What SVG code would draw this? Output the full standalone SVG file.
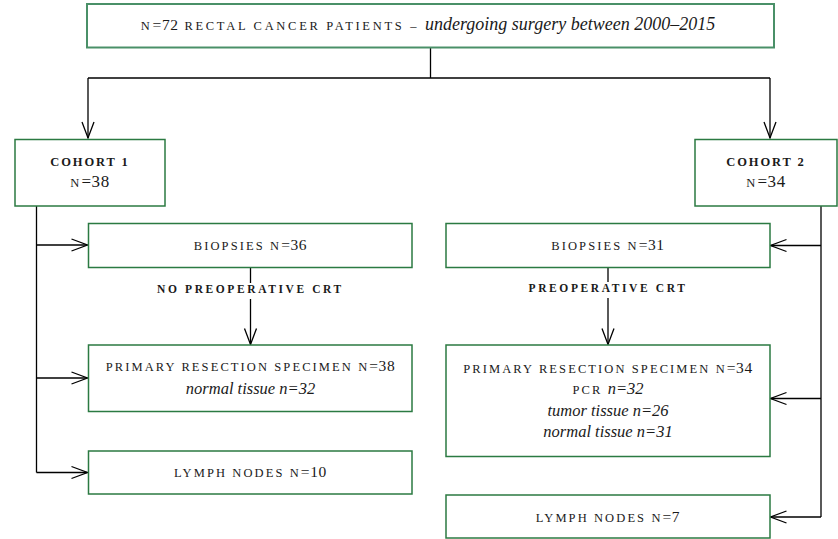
<svg xmlns="http://www.w3.org/2000/svg" width="838" height="539" viewBox="0 0 838 539">
<style>
.box{fill:#fff;stroke:#2b7a42;stroke-width:1.5}
.box0{fill:#fff;stroke:#4a9068;stroke-width:2}
.t{font-family:"Liberation Serif","DejaVu Serif",serif;font-size:12.5px;letter-spacing:2.1px;fill:#1a1a1a;text-anchor:middle}
.b{font-weight:bold;font-size:11.5px;letter-spacing:2.6px}
.h{font-weight:bold;font-size:12.5px;letter-spacing:1.9px}
.d{font-size:15.5px;letter-spacing:0.6px}
.i{font-style:italic;letter-spacing:0;font-size:16.5px}
.c{fill:none;stroke:#000;stroke-width:1.3}
</style>
<defs>
<marker id="ah" markerUnits="userSpaceOnUse" markerWidth="20" markerHeight="14" refX="16" refY="6" orient="auto" overflow="visible">
<path d="M0,0 L16,6 L0,12" fill="none" stroke="#000" stroke-width="1.3"/>
</marker>
</defs>
<g id="connectors">
<path class="c" d="M430.5,48 V78"/>
<path class="c" d="M88,78 H770"/>
<path class="c" d="M88,78 V138" marker-end="url(#ah)"/>
<path class="c" d="M770,78 V138" marker-end="url(#ah)"/>
<path class="c" d="M36.5,206 V472.5"/>
<path class="c" d="M36.5,245 H87.5" marker-end="url(#ah)"/>
<path class="c" d="M36.5,378 H87.5" marker-end="url(#ah)"/>
<path class="c" d="M36.5,472.5 H87.5" marker-end="url(#ah)"/>
<path class="c" d="M821,206 V517"/>
<path class="c" d="M821,245.5 H770.5" marker-end="url(#ah)"/>
<path class="c" d="M821,398.5 H770.5" marker-end="url(#ah)"/>
<path class="c" d="M821,517 H770.5" marker-end="url(#ah)"/>
<path class="c" d="M250.5,267 V283"/>
<path class="c" d="M250.5,299 V344.5" marker-end="url(#ah)"/>
<path class="c" d="M608,267 V282"/>
<path class="c" d="M608,298 V344.5" marker-end="url(#ah)"/>
</g>
<g id="labels">
<text class="t b" x="250.5" y="293">NO PREOPERATIVE CRT</text>
<text class="t b" x="608" y="292">PREOPERATIVE CRT</text>
</g>
<g id="top">
<rect class="box0" x="87" y="4" width="687" height="43.5"/>
<text class="t" x="428" y="30" style="letter-spacing:2.7px">N<tspan class="d">=72</tspan> RECTAL CANCER PATIENTS – <tspan class="i" style="font-size:18px">undergoing surgery between 2000–2015</tspan></text>
</g>
<g id="cohort1">
<rect class="box" x="15" y="139.5" width="150" height="66.5"/>
<text class="t h" x="90" y="166">COHORT 1</text>
<text class="t" x="90" y="187">N<tspan class="d" style="font-size:17px">=38</tspan></text>
</g>
<g id="cohort2">
<rect class="box" x="695" y="139.5" width="142" height="66.5"/>
<text class="t h" x="766" y="166">COHORT 2</text>
<text class="t" x="766" y="187">N<tspan class="d" style="font-size:17px">=34</tspan></text>
</g>
<g id="biopsies1">
<rect class="box" x="88.5" y="223.5" width="323.5" height="44"/>
<text class="t" x="250.5" y="250">BIOPSIES N<tspan class="d">=36</tspan></text>
</g>
<g id="biopsies2">
<rect class="box" x="446" y="223.5" width="324" height="44"/>
<text class="t" x="608" y="250">BIOPSIES N<tspan class="d">=31</tspan></text>
</g>
<g id="primary1">
<rect class="box" x="88.5" y="345" width="323.5" height="66.5"/>
<text class="t" x="250.5" y="371">PRIMARY RESECTION SPECIMEN N<tspan class="d">=38</tspan></text>
<text class="t i" x="250.5" y="394">normal tissue n=32</text>
</g>
<g id="primary2">
<rect class="box" x="446" y="345" width="324" height="111.5"/>
<text class="t" x="608" y="373">PRIMARY RESECTION SPECIMEN N<tspan class="d">=34</tspan></text>
<text class="t" x="608" y="394">PCR <tspan class="i">n=32</tspan></text>
<text class="t i" x="608" y="415.5">tumor tissue n=26</text>
<text class="t i" x="608" y="436.5">normal tissue n=31</text>
</g>
<g id="lymph1">
<rect class="box" x="88.5" y="451" width="323.5" height="43"/>
<text class="t" x="250.5" y="477">LYMPH NODES N<tspan class="d">=10</tspan></text>
</g>
<g id="lymph2">
<rect class="box" x="446" y="495" width="324" height="43"/>
<text class="t" x="608" y="522">LYMPH NODES N<tspan class="d">=7</tspan></text>
</g>
</svg>
